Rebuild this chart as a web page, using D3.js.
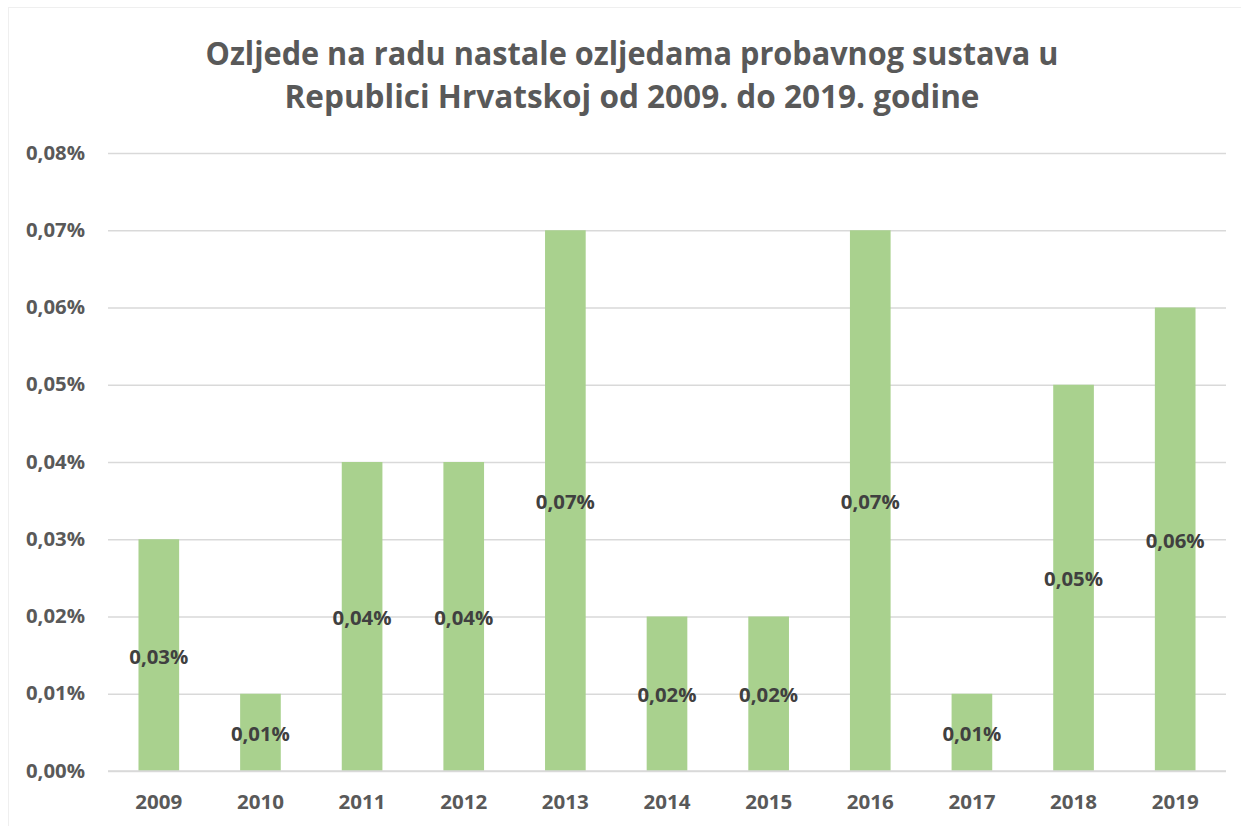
<!DOCTYPE html>
<html><head><meta charset="utf-8">
<script src="https://cdn.jsdelivr.net/npm/d3@7"></script>
<style>body{margin:0;background:#fff}svg{display:block}</style>
</head><body>
<svg id="c" width="1241" height="826"></svg>
<script>
const categories = ["2009","2010","2011","2012","2013","2014","2015","2016","2017","2018","2019"];
const values = [0.03,0.01,0.04,0.04,0.07,0.02,0.02,0.07,0.01,0.05,0.06];
const yTicks = [0,0.01,0.02,0.03,0.04,0.05,0.06,0.07,0.08];
const titleLines = ["Ozljede na radu nastale ozljedama probavnog sustava u","Republici Hrvatskoj od 2009. do 2019. godine"];

const svg = d3.select("#c");
const font = "'Open Sans', 'Liberation Sans', sans-serif";
const fmt = v => v.toFixed(2).replace(".", ",") + "%";

svg.append("rect").attr("x",8.5).attr("y",7.5).attr("width",1250).attr("height",830)
  .attr("fill","#fff").attr("stroke","#efefef").attr("stroke-width",1);

const x = d3.scaleBand().domain(categories).range([108,1226]).paddingInner(0.6).paddingOuter(0.3);
const y = d3.scaleLinear().domain([0,0.08]).range([771,153]);

// title
const tw = [853, 695];
titleLines.forEach((t,i)=>{
  svg.append("text").attr("x",632).attr("y",[65,108][i]).attr("text-anchor","middle")
    .attr("font-family",font).attr("font-weight","bold").attr("font-size",33)
    .attr("fill","#595959").attr("textLength",tw[i]).attr("lengthAdjust","spacingAndGlyphs").text(t);
});

// gridlines
const yAxis = d3.axisLeft(y).tickValues(yTicks).tickFormat(fmt).tickSize(-(1226-108)).tickPadding(22);
const gy = svg.append("g").attr("transform","translate(108,0)").call(yAxis);
gy.select(".domain").remove();
gy.selectAll(".tick line").attr("stroke","#d9d9d9").attr("stroke-width",1.5);
gy.selectAll(".tick text").attr("font-family",font).attr("font-weight","bold").attr("font-size",19)
  .attr("fill","#595959").attr("x",-23).attr("textLength",59).attr("lengthAdjust","spacingAndGlyphs");

// bars
svg.append("g").selectAll("rect").data(values).join("rect")
  .attr("x",(d,i)=>x(categories[i])).attr("width",x.bandwidth())
  .attr("y",d=>y(d)).attr("height",d=>y(0)-y(d)).attr("fill","#a9d18e");

// x axis
const xAxis = d3.axisBottom(x).tickSize(0).tickPadding(25);
const gx = svg.append("g").attr("transform","translate(0,771)").call(xAxis);
gx.select(".domain").attr("stroke","#d9d9d9").attr("stroke-width",1.5).attr("d","M108,0H1226");
gx.selectAll(".tick text").attr("font-family",font).attr("font-weight","bold").attr("font-size",19)
  .attr("fill","#595959").attr("textLength",47).attr("lengthAdjust","spacingAndGlyphs");

// data labels
svg.append("g").selectAll("text").data(values).join("text")
  .attr("x",(d,i)=>x(categories[i])+x.bandwidth()/2)
  .attr("y",d=>(y(d)+y(0))/2).attr("dy","0.45em").attr("text-anchor","middle")
  .attr("font-family",font).attr("font-weight","bold").attr("font-size",19).attr("fill","#404040")
  .attr("textLength",59).attr("lengthAdjust","spacingAndGlyphs")
  .text(fmt);
</script>
</body></html>
